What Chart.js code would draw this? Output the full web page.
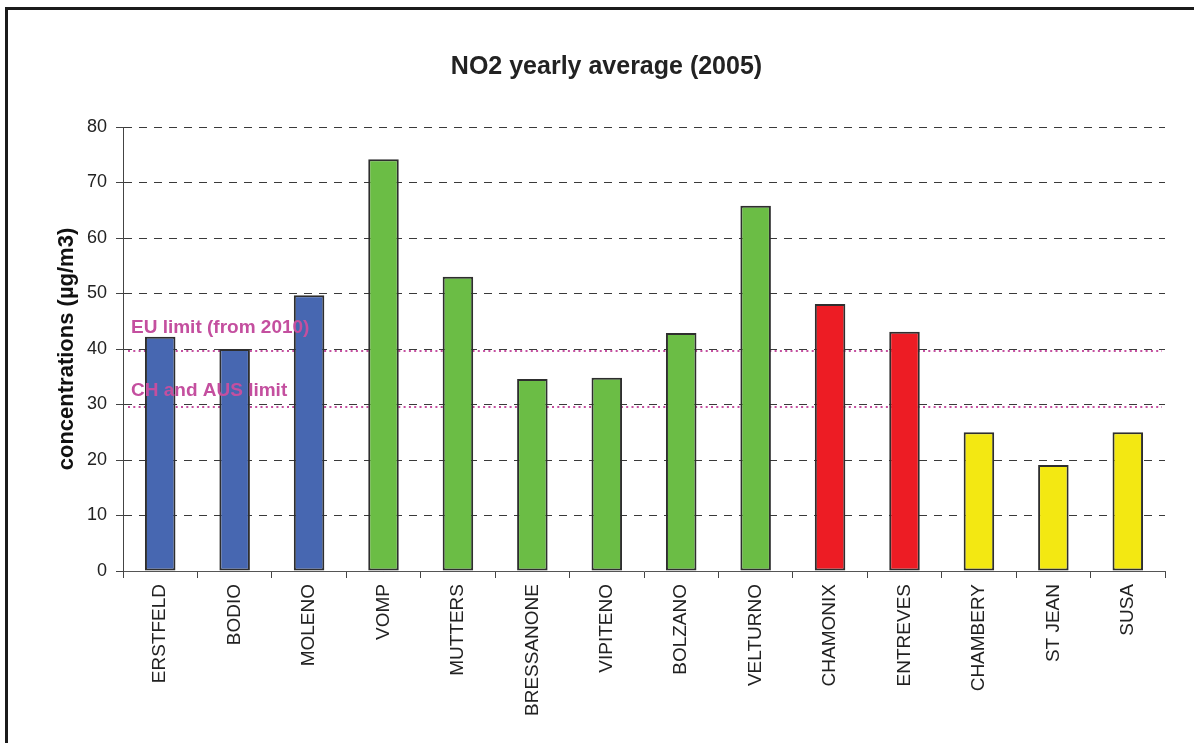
<!DOCTYPE html>
<html>
<head>
<meta charset="utf-8">
<script src="https://cdn.jsdelivr.net/npm/chart.js@4.4.0/dist/chart.umd.min.js"></script>
<style>
  html, body { margin: 0; padding: 0; background: #fff; overflow: hidden; }
  #wrap { position: relative; width: 1194px; height: 743px; }
  #frame {
    position: absolute; left: 5px; top: 7px; width: 1300px; height: 900px;
    border-left: 3px solid #1b1b1b; border-top: 3px solid #1b1b1b;
    pointer-events: none;
  }
  canvas { position: absolute; left: 0; top: 0; }
</style>
</head>
<body>
<div id="wrap">
  <canvas id="myChart" width="1194" height="743"></canvas>
  <div id="frame"></div>
</div>
<script>
// stations and yearly NO2 averages (µg/m3)
const stations = ["ERSTFELD", "BODIO", "MOLENO", "VOMP", "MUTTERS", "BRESSANONE", "VIPITENO",
    "BOLZANO", "VELTURNO", "CHAMONIX", "ENTREVES", "CHAMBERY", "ST JEAN", "SUSA"];
const no2Values = [42.2, 40.0, 49.7, 74.2, 53.0, 34.6, 34.8, 42.9, 65.8, 48.1, 43.1, 25.0, 19.1, 25.0];
// colour group of each station (CH, AT/IT, Mont Blanc, Fréjus)
const stationGroups = ["ch", "ch", "ch", "at", "at", "at", "at", "at", "at", "mb", "mb", "fr", "fr", "fr"];
const yTicks = [0, 10, 20, 30, 40, 50, 60, 70, 80];

// limit lines
const limitValues = [40, 30];
const limitLabels = ["EU limit (from 2010)", "CH and AUS limit"];

const groupColors = { ch: "#4767b1", at: "#6bbd45", mb: "#ed1c24", fr: "#f3e812" };
const labelOffsets = [-21, -14];
const FONT = "'Liberation Sans', Arial, sans-serif";

const limitPlugin = {
    id: "limits",
    // dotted lines sit behind the bars
    beforeDatasetsDraw(chart) {
        const ctx = chart.ctx;
        const area = chart.chartArea;
        const y = chart.scales.y;
        ctx.save();
        limitValues.forEach(function (v) {
            const py = Math.round(y.getPixelForValue(v)) + 2;
            ctx.strokeStyle = "#c44f9f";
            ctx.lineWidth = 2;
            ctx.setLineDash([2, 3.3]);
            ctx.beginPath();
            ctx.moveTo(area.left + 5, py);
            ctx.lineTo(area.right - 3, py);
            ctx.stroke();
        });
        ctx.restore();
    },
    // labels on top
    afterDatasetsDraw(chart) {
        const ctx = chart.ctx;
        const area = chart.chartArea;
        const y = chart.scales.y;
        ctx.save();
        limitValues.forEach(function (v, i) {
            const py = y.getPixelForValue(v);
            ctx.fillStyle = "#c44f9f";
            ctx.font = "bold 19px " + FONT;
            ctx.textBaseline = "middle";
            ctx.textAlign = "left";
            ctx.fillText(limitLabels[i], area.left + 8, py + labelOffsets[i]);
        });
        ctx.restore();
    }
};

const ctx = document.getElementById("myChart").getContext("2d");
const myChart = new Chart(ctx, {
    type: "bar",
    data: {
        labels: stations,
        datasets: [
            {
                label: "NO2",
                data: no2Values,
                backgroundColor: stationGroups.map(function (g) { return groupColors[g]; }),
                borderColor: "#2e2e2e",
                borderWidth: 2,
                borderSkipped: false,
                barPercentage: 0.41,
                categoryPercentage: 1,
            },
        ],
    },
    options: {
        responsive: false,
        animation: false,
        devicePixelRatio: 1,
        layout: { padding: { left: 48, right: 29, top: 0, bottom: 0 } },
        plugins: {
            legend: { display: false },
            tooltip: { enabled: false },
            title: {
                display: true,
                text: "NO2 yearly average (2005)",
                color: "#222",
                font: { family: FONT, size: 25, weight: "bold" },
                padding: { top: 52, bottom: 45 },
            },
        },
        scales: {
            x: {
                grid: {
                    display: true,
                    offset: true,
                    drawOnChartArea: false,
                    drawTicks: true,
                    tickLength: 7,
                    color: "#444",
                },
                border: { display: true, color: "#555", width: 1 },
                ticks: {
                    color: "#222",
                    minRotation: 90,
                    maxRotation: 90,
                    padding: 6,
                    autoSkip: false,
                    font: { family: FONT, size: 19 },
                },
                afterFit: function (s) { s.height = 172; },
            },
            y: {
                min: 0,
                max: 80,
                afterBuildTicks: function (s) { s.ticks = yTicks.map(function (v) { return { value: v }; }); },
                grid: {
                    color: "#3a3a3a",
                    lineWidth: 1,
                    drawTicks: true,
                    tickLength: 7,
                    tickColor: "#444",
                },
                border: { display: true, color: "#444", width: 1, dash: [8, 7] },
                ticks: {
                    color: "#222",
                    padding: 9,
                    font: { family: FONT, size: 18 },
                },
                title: {
                    display: true,
                    text: "concentrations (µg/m3)",
                    color: "#111",
                    padding: { top: 6, bottom: 0 },
                    font: { family: FONT, size: 22, weight: "bold" },
                },
                afterFit: function (s) { s.width = 75; },
            },
        },
    },
    plugins: [limitPlugin],
});
</script>
</body>
</html>
